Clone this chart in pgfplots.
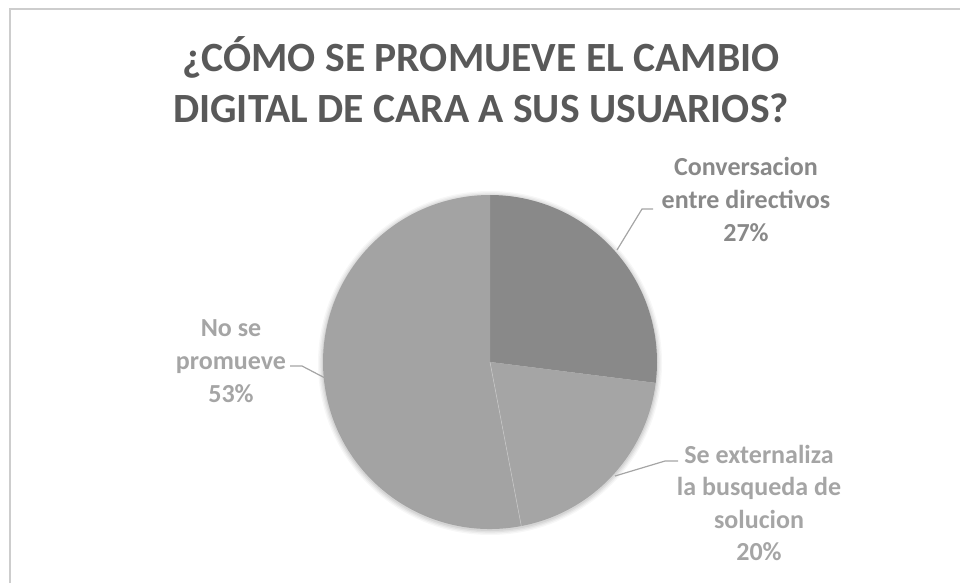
\documentclass[border=0pt]{standalone}
\usepackage{pgfplots}
\usepackage{pgfplotstable}
\pgfplotsset{compat=1.18}
\usepackage{fontspec}
\setmainfont{Carlito}
\definecolor{titlegray}{HTML}{595959}
\definecolor{sliceA}{HTML}{898989}
\definecolor{sliceB}{HTML}{A5A5A5}
\definecolor{sliceC}{HTML}{A3A3A3}
\definecolor{bordergray}{HTML}{CDCDCD}
\pgfplotstableread{
label value
Conversacion 27
Externaliza 20
NoPromueve 53
}\piedata
\pgfplotstablegetelem{0}{value}\of\piedata \let\va\pgfplotsretval
\pgfplotstablegetelem{1}{value}\of\piedata \let\vb\pgfplotsretval
\pgfplotstablegetelem{2}{value}\of\piedata \let\vc\pgfplotsretval
\pgfmathsetmacro\aA{90-3.6*\va}
\pgfmathsetmacro\aB{\aA-3.6*\vb}
\pgfmathsetmacro\aC{\aB-3.6*\vc}
\begin{document}
\begin{tikzpicture}
\begin{axis}[
  width=720pt, height=437.25pt, scale only axis,
  xmin=0, xmax=960, ymin=0, ymax=583,
  hide axis, clip=false,
]
% frame
\draw[bordergray, line width=1.5pt] (axis cs:10,0) -- (axis cs:10,574) -- (axis cs:960,574);
% soft shadow
\fill[black, opacity=0.03] (axis cs:490,220) circle[radius=129pt];
\fill[black, opacity=0.04] (axis cs:490,220) circle[radius=128pt];
\fill[black, opacity=0.05] (axis cs:490,220) circle[radius=127pt];
\fill[black, opacity=0.06] (axis cs:490,220) circle[radius=126pt];
% slices
\fill[sliceA] (axis cs:490,221) -- ++(90:125.25pt) arc[start angle=90, end angle=\aA, radius=125.25pt] -- cycle;
\fill[sliceB] (axis cs:490,221) -- ++(\aA:125.25pt) arc[start angle=\aA, end angle=\aB, radius=125.25pt] -- cycle;
\fill[sliceC] (axis cs:490,221) -- ++(\aB:125.25pt) arc[start angle=\aB, end angle=\aC, radius=125.25pt] -- cycle;
\draw[white!40!sliceB, line width=0.4pt] (axis cs:490,221) -- ++(\aB:125.25pt);
% title
\node[titlegray, font=\fontsize{31.2}{38.5}\selectfont\bfseries, align=center] at (axis cs:481,503)
  {¿CÓMO SE PROMUEVE EL CAMBIO\\DIGITAL DE CARA A SUS USUARIOS?};
% leader lines
\draw[sliceB, line width=0.9pt] (axis cs:653,374) -- (axis cs:642,374) -- (axis cs:617,333);
\draw[sliceB, line width=0.9pt] (axis cs:678,122) -- (axis cs:665,122) -- (axis cs:615,107);
\draw[sliceB, line width=0.9pt] (axis cs:290,217) -- (axis cs:302,217) -- (axis cs:325,205);
% labels
\node[sliceA, font=\fontsize{19.5}{24.75}\selectfont\bfseries, align=center] at (axis cs:746,384)
  {Conversacion\\entre directivos\\27\%};
\node[sliceB, font=\fontsize{19.5}{24.75}\selectfont\bfseries, align=center] at (axis cs:231,222)
  {No se\\promueve\\53\%};
\node[sliceB, font=\fontsize{19.5}{24.25}\selectfont\bfseries, align=center] at (axis cs:759,80)
  {Se externaliza\\la busqueda de\\solucion\\20\%};
\end{axis}
\pgfresetboundingbox
\path[use as bounding box] (0,0) rectangle (720pt,437.25pt);
\end{tikzpicture}
\end{document}
